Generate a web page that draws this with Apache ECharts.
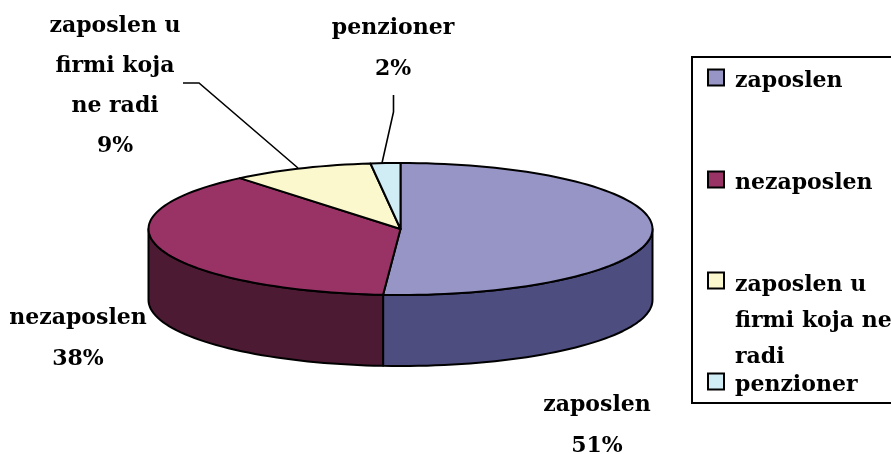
<!DOCTYPE html>
<html>
<head>
<meta charset="utf-8">
<style>html,body{margin:0;padding:0;background:#fff}#c{width:891px;height:454px}</style>
<script src="https://cdn.jsdelivr.net/npm/echarts@6/dist/echarts.min.js"></script>
</head>
<body>
<div id="c"></div>
<script>
var categories = ['zaposlen', 'nezaposlen', 'zaposlen u firmi koja ne radi', 'penzioner'];
var values = [51.1, 37.9, 9.1, 1.9];
var dataLabelLines = [['zaposlen'], ['nezaposlen'], ['zaposlen u', 'firmi koja', 'ne radi'], ['penzioner']];
var legendLabelLines = [['zaposlen'], ['nezaposlen'], ['zaposlen u', 'firmi koja ne', 'radi'], ['penzioner']];
var topColors = ['#9794C6', '#993366', '#FCF8CD', '#D0ECF5'];
var sideColors = ['#4D4D80', '#4C1A33', '#7F7C66', '#66767A'];

var FONT = '"DejaVu Serif", "Liberation Serif", serif';
var FS = 22;
var cx = 400.5, cy = 229, rx = 252, ry = 66, depth = 71;
var total = values.reduce(function (a, b) { return a + b; }, 0);

function pt(deg, dy) {
  var r = deg * Math.PI / 180;
  return [cx + rx * Math.sin(r), cy - ry * Math.cos(r) + (dy || 0)];
}
function arc(a, b, dy) {
  var out = [], n = Math.max(2, Math.ceil(Math.abs(b - a) / 2));
  for (var i = 0; i <= n; i++) out.push(pt(a + (b - a) * i / n, dy));
  return out;
}
function range(i) {
  var s = 0;
  for (var k = 0; k < i; k++) s += values[k];
  return [s / total * 360, (s + values[i]) / total * 360];
}
function topItem(params) {
  var r = range(params.dataIndex);
  return {
    type: 'polygon',
    shape: { points: [[cx, cy]].concat(arc(r[0], r[1])) },
    style: { fill: topColors[params.dataIndex], stroke: '#000', lineWidth: 2, lineJoin: 'round' }
  };
}
function sideItem(params) {
  var r = range(params.dataIndex);
  var a = Math.max(r[0], 90), b = Math.min(r[1], 270);
  if (b <= a) return { type: 'group', children: [] };
  return {
    type: 'polygon',
    shape: { points: arc(a, b).concat(arc(b, a, depth)) },
    style: { fill: sideColors[params.dataIndex], stroke: '#000', lineWidth: 2, lineJoin: 'round' }
  };
}
function txt(s, x, y, align) {
  return { type: 'text', x: x, y: y, silent: true, z: 10,
    style: { text: s, fill: '#000', font: 'bold ' + FS + 'px ' + FONT, align: align || 'center', verticalAlign: 'middle' } };
}
function line(points) {
  return { type: 'polyline', z: 5, silent: true, shape: { points: points },
    style: { fill: null, stroke: '#000', lineWidth: 1.6 } };
}

var gfx = [];
// data labels: centre x, first-line middle y, line step
var labelPlaces = [[597, 405, 41], [78, 318, 41], [115, 26, 40], [393, 28, 41]];
categories.forEach(function (c, i) {
  var p = labelPlaces[i], lines = dataLabelLines[i].concat([Math.round(values[i] / total * 100) + '%']);
  lines.forEach(function (s, k) { gfx.push(txt(s, p[0], p[1] + k * p[2])); });
});
gfx.push(line([[183, 83], [199, 83], [298, 168]]));
gfx.push(line([[393.5, 95], [393.5, 112], [382, 163]]));
// legend box
gfx.push({ type: 'rect', z: 4, silent: true, shape: { x: 692, y: 57, width: 220, height: 346 },
  style: { fill: '#fff', stroke: '#000', lineWidth: 2 } });
var legendSwatchY = [69.5, 171.5, 272.5, 373.5];
var legendTextY = [[81], [183], [285, 321, 357], [385]];
categories.forEach(function (c, i) {
  gfx.push({ type: 'rect', z: 5, silent: true, shape: { x: 708, y: legendSwatchY[i], width: 16, height: 16 },
    style: { fill: topColors[i], stroke: '#000', lineWidth: 2 } });
  legendLabelLines[i].forEach(function (s, k) { gfx.push(txt(s, 735, legendTextY[i][k], 'left')); });
});

var chart = echarts.init(document.getElementById('c'), null, { renderer: 'canvas' });
var rows = categories.map(function (c, i) { return { name: c, value: values[i] }; });
chart.setOption({
  animation: false,
  backgroundColor: '#fff',
  graphic: gfx,
  series: [
    { type: 'custom', coordinateSystem: 'none', z: 1, silent: true, renderItem: sideItem, data: rows },
    { type: 'custom', coordinateSystem: 'none', z: 2, silent: true, renderItem: topItem, data: rows }
  ]
});
</script>
</body>
</html>
